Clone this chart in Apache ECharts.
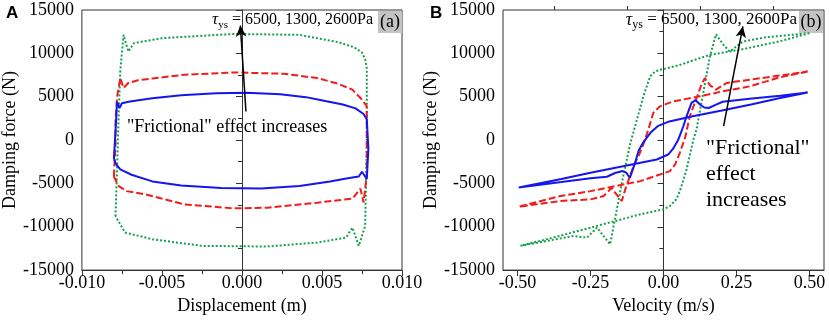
<!DOCTYPE html>
<html>
<head>
<meta charset="utf-8">
<script src="https://cdn.jsdelivr.net/npm/echarts@6/dist/echarts.min.js"></script>
<style>
html, body { margin: 0; padding: 0; background: #fff; }
#chartmain { width: 829px; height: 320px; }
</style>
</head>
<body>
<div id="chartmain"></div>
<script>
// (a) damping force vs displacement : [x (m), F (N)]
var dispBlue = [[-0.0080,-2100],[-0.0079,1000],[-0.0078,4400],[-0.00765,3700],[-0.0075,4250],[-0.0070,4450],
    [-0.0056,4830],[-0.0038,5180],[-0.0016,5400],[0.0003,5460],[0.0024,5290],[0.0040,4950],[0.0052,4500],
    [0.0063,4100],[0.0071,3650],[0.0076,3000],[0.0078,2400],[0.0079,-1000],[0.0078,-4500],[0.0075,-3650],
    [0.0073,-4200],[0.0067,-4370],[0.0055,-4770],[0.0036,-5290],[0.0012,-5580],[-0.0013,-5520],[-0.0038,-5230],
    [-0.0056,-4770],[-0.0069,-4000],[-0.0076,-3390],[-0.0079,-2700],[-0.0080,-2100]];
var dispRed = [[-0.0080,-4200],[-0.0079,-500],[-0.0079,2300],[-0.0078,5000],[-0.0076,7150],[-0.0074,6000],
    [-0.0071,6580],[-0.0065,6900],[-0.0056,7100],[-0.0036,7530],[-0.0005,7800],[0.0026,7650],[0.0047,7150],
    [0.0060,6500],[0.0069,5810],[0.0075,4660],[0.0078,3890],[0.0078,0],[0.0078,-4000],[0.0076,-7200],
    [0.0074,-5600],[0.0069,-6760],[0.0047,-7220],[0.0016,-7800],[-0.0005,-7880],[-0.0036,-7420],[-0.0060,-6270],
    [-0.0072,-5890],[-0.0077,-5310],[-0.0079,-4600],[-0.0080,-4200]];
var dispGreen = [[-0.0079,-8800],[-0.0078,-3000],[-0.0077,3000],[-0.0076,8000],[-0.0074,12130],[-0.0071,10210],
    [-0.00675,11180],[-0.0050,11750],[-0.0005,12240],[0.0036,12130],[0.0060,11300],[0.0070,10700],[0.0075,10100],
    [0.0077,9300],[0.0078,8300],[0.0078,0],[0.0077,-9900],[0.0073,-12200],[0.0069,-10100],[0.0065,-11250],
    [0.0047,-11820],[0.0016,-12280],[-0.0025,-12210],[-0.0056,-11440],[-0.0073,-10670],[-0.0079,-8800]];

// (b) damping force vs velocity : [v (m/s), F (N)]
var velBlue = [[0.494,5480],[0.40,4850],[0.30,4100],[0.20,3400],[0.10,2750],[0.02,2150],[-0.02,1600],[-0.045,830],
    [-0.07,-300],[-0.085,-1200],[-0.10,-2900],[-0.115,-4350],[-0.128,-3750],[-0.14,-3580],[-0.166,-3800],
    [-0.194,-4230],[-0.25,-4400],[-0.35,-4850],[-0.496,-5480],[-0.35,-4500],[-0.25,-3770],[-0.10,-2760],
    [-0.023,-2240],[0.016,-1670],[0.033,-1000],[0.05,0],[0.068,1590],[0.079,2740],[0.096,4280],[0.11,4600],
    [0.125,4100],[0.14,3750],[0.155,3700],[0.18,4080],[0.203,4420],[0.295,4750],[0.40,5100],[0.494,5480]];
var velRed = [[0.494,7900],[0.40,7250],[0.295,6190],[0.20,5600],[0.125,5040],[0.033,4460],[-0.012,3890],
    [-0.035,3130],[-0.052,1210],[-0.069,-500],[-0.085,-1800],[-0.103,-3010],[-0.131,-5690],[-0.143,-7030],
    [-0.166,-6070],[-0.177,-5500],[-0.205,-6460],[-0.25,-6840],[-0.353,-7030],[-0.496,-7690],[-0.353,-6460],
    [-0.25,-5890],[-0.08,-4740],[0.022,-3590],[0.04,-2800],[0.056,-1470],[0.075,400],[0.09,2740],[0.113,4800],
    [0.13,6400],[0.142,7150],[0.16,6300],[0.18,5810],[0.216,6580],[0.295,6960],[0.40,7450],[0.494,7900]];
var velGreen = [[0.50,12330],[0.40,11400],[0.261,10410],[0.159,9830],[0.05,8600],[-0.012,8100],[-0.029,7910],
    [-0.046,7340],[-0.069,5040],[-0.091,2360],[-0.114,-400],[-0.14,-4500],[-0.16,-8000],[-0.183,-12020],
    [-0.228,-10100],[-0.262,-11250],[-0.308,-11060],[-0.49,-12200],[-0.35,-11000],[-0.25,-10100],[-0.08,-8570],
    [0,-7990],[0.022,-7610],[0.045,-6800],[0.06,-5500],[0.079,-3390],[0.102,0],[0.113,1210],[0.136,5430],
    [0.159,9640],[0.18,12200],[0.205,11000],[0.227,10210],[0.25,10790],[0.272,11360],[0.35,11850],[0.50,12330]];

// velocity axis ticks
var velTicks = [-0.5, -0.25, 0, 0.25, 0.5];
var velMinorTicks = [-0.375, -0.125, 0.125, 0.375];

// annotation arrows : [tail, head]
var arrowA = [[0.00025, 3300], [-0.0001, 13200]];
var arrowB = [[0.206, 1600], [0.272, 13100]];

var chart = echarts.init(document.getElementById('chartmain'));

var serif = 'Liberation Serif';
var axisFont = { fontFamily: serif, fontSize: 18, color: '#000' };

function yAxisOf(grid, gap) {
    return {
        type: 'value', gridIndex: grid, min: -15000, max: 15000, interval: 5000,
        name: 'Damping force (N)', nameLocation: 'middle', nameGap: gap,
        nameTextStyle: axisFont,
        axisLine: { show: true, lineStyle: { color: '#333', width: 1 } },
        axisTick: { show: true, length: 6, lineStyle: { color: '#333' } },
        minorTick: { show: true, splitNumber: 2, length: 4, lineStyle: { color: '#333' } },
        axisLabel: Object.assign({ margin: 8, formatter: function (v) { return String(v); } }, axisFont),
        splitLine: { show: false }
    };
}

function arrowLine(pts) {
    return {
        silent: true,
        symbol: ['none', 'arrow'],
        symbolSize: [8, 11],
        label: { show: false },
        lineStyle: { color: '#000', type: 'solid', width: 1.5 },
        data: [[{ coord: pts[0] }, { coord: pts[1] }]]
    };
}

// tau annotation, x is the right edge of the text
function tauText(x, size) {
    return {
        type: 'text', x: x, y: 9,
        style: {
            text: '{t|τ}{s|ys}{n| = 6500, 1300, 2600Pa}',
            verticalAlign: 'top', align: 'right',
            rich: {
                t: { fontFamily: serif, fontStyle: 'italic', fontSize: size + 1, lineHeight: 22, fill: '#000' },
                s: { fontFamily: serif, fontSize: size - 5, lineHeight: 11, verticalAlign: 'bottom', fill: '#000' },
                n: { fontFamily: serif, fontSize: size, lineHeight: 22, fill: '#000' }
            }
        }
    };
}

function tagBox(x, label) {
    return {
        type: 'group', x: x, y: 11,
        children: [
            { type: 'rect', shape: { x: 0, y: 0, width: 24, height: 22 }, style: { fill: '#c4c4c4' } },
            { type: 'text', x: 12, y: 11, style: { text: label, font: '18px "Liberation Serif"', fill: '#000', align: 'center', verticalAlign: 'middle' } }
        ]
    };
}

var line = function (data, xi, yi, color, type) {
    return {
        type: 'line', xAxisIndex: xi, yAxisIndex: yi, data: data,
        showSymbol: false, symbol: 'none', animation: false,
        lineStyle: { color: color, width: 2, type: type },
        itemStyle: { color: color }
    };
};

var option = {
    animation: false,
    backgroundColor: '#fff',
    grid: [
        { left: 79, right: 427, top: 10, bottom: 49, show: true, borderColor: '#333', borderWidth: 1 },
        { left: 503, right: 5, top: 10, bottom: 49, show: true, borderColor: '#333', borderWidth: 1 }
    ],
    xAxis: [
        {
            type: 'value', gridIndex: 0, min: -0.01, max: 0.01, interval: 0.005,
            name: 'Displacement (m)', nameLocation: 'middle', nameGap: 20, nameTextStyle: axisFont,
            axisLine: { show: true, onZero: false, lineStyle: { color: '#333', width: 1 } },
            axisTick: { show: true, length: 6, lineStyle: { color: '#333' } },
            minorTick: { show: true, splitNumber: 2, length: 4, lineStyle: { color: '#333' } },
            axisLabel: Object.assign({
                margin: 4,
                formatter: function (v) { var s = v.toFixed(3); return s === '-0.000' ? '0.000' : s; }
            }, axisFont),
            splitLine: { show: false }
        },
        {
            type: 'value', gridIndex: 1, min: -0.55, max: 0.55,
            name: 'Velocity (m/s)', nameLocation: 'middle', nameGap: 20, nameTextStyle: axisFont,
            axisLine: { show: true, onZero: false, lineStyle: { color: '#333', width: 1 } },
            axisTick: { show: true, length: 6, customValues: velTicks, lineStyle: { color: '#333' } },
            axisLabel: Object.assign({
                margin: 4, customValues: velTicks,
                formatter: function (v) { return v.toFixed(2); }
            }, axisFont),
            splitLine: { show: false }
        },
        {
            // minor ticks of the velocity axis
            type: 'value', gridIndex: 1, min: -0.55, max: 0.55,
            axisLine: { show: false, onZero: false },
            axisTick: { show: true, length: 4, customValues: velMinorTicks, lineStyle: { color: '#333' } },
            axisLabel: { show: false },
            splitLine: { show: false }
        }
    ],
    yAxis: [yAxisOf(0, 60), yAxisOf(1, 58)],
    series: [
        line(dispGreen, 0, 0, '#14a04a', 'dotted'),
        line(dispRed, 0, 0, '#f21c1c', [7, 3]),
        Object.assign(line(dispBlue, 0, 0, '#1515f0', 'solid'), { markLine: arrowLine(arrowA) }),
        line(velGreen, 1, 1, '#14a04a', 'dotted'),
        line(velRed, 1, 1, '#f21c1c', [7, 3]),
        Object.assign(line(velBlue, 1, 1, '#1515f0', 'solid'), { markLine: arrowLine(arrowB) })
    ],
    graphic: [
        { type: 'text', x: 6, y: 5, style: { text: 'A', font: 'bold 17px "Liberation Sans"', fill: '#000' } },
        { type: 'text', x: 430, y: 5, style: { text: 'B', font: 'bold 17px "Liberation Sans"', fill: '#000' } },
        tauText(373, 16),
        tauText(797, 17),
        tagBox(378, '(a)'),
        tagBox(799, '(b)'),
        { type: 'text', x: 127, y: 118, style: { text: '"Frictional" effect increases', font: '18px "Liberation Serif"', fill: '#000' } },
        { type: 'text', x: 706, y: 135, style: { text: '"Frictional"\neffect\nincreases', font: '22px "Liberation Serif"', lineHeight: 26, fill: '#000' } }
    ]
};

chart.setOption(option);
</script>
</body>
</html>
